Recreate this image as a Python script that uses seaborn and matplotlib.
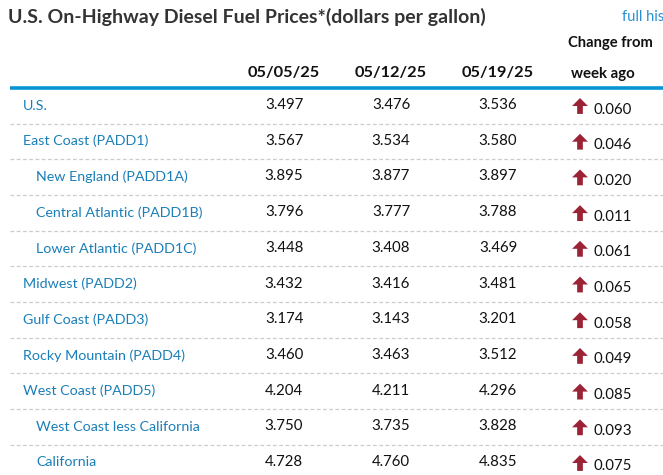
import matplotlib
matplotlib.use("Agg")
import matplotlib.pyplot as plt
import seaborn as sns
import pandas as pd
from matplotlib.path import Path

# table contents
regions = ["U.S.", "East Coast (PADD1)", "New England (PADD1A)", "Central Atlantic (PADD1B)",
           "Lower Atlantic (PADD1C)", "Midwest (PADD2)", "Gulf Coast (PADD3)",
           "Rocky Mountain (PADD4)", "West Coast (PADD5)", "West Coast less California",
           "California"]
indented = [False, False, True, True, True, False, False, False, False, True, True]
dates = ["05/05/25", "05/12/25", "05/19/25"]
price_0505 = [3.497, 3.567, 3.895, 3.796, 3.448, 3.432, 3.174, 3.460, 4.204, 3.750, 4.728]
price_0512 = [3.476, 3.534, 3.877, 3.777, 3.408, 3.416, 3.143, 3.463, 4.211, 3.735, 4.760]
price_0519 = [3.536, 3.580, 3.897, 3.788, 3.469, 3.481, 3.201, 3.512, 4.296, 3.828, 4.835]
change = [0.060, 0.046, 0.020, 0.011, 0.061, 0.065, 0.058, 0.049, 0.085, 0.093, 0.075]

df = pd.DataFrame({"region": regions, "indent": indented,
                   dates[0]: price_0505, dates[1]: price_0512, dates[2]: price_0519,
                   "change": change})

sns.set_theme(style="white")
plt.rcParams["font.family"] = ["Lato", "DejaVu Sans"]

W, H = 663, 475
fig = plt.figure(figsize=(W / 100, H / 100), dpi=100)
ax = fig.add_axes([0, 0, 1, 1])

# layout (pixels)
row0, row_h = 104, 35.7
col_x = [284, 391, 498]
arrow_x, chg_x = 580, 594
df["y"] = row0 + df.index * row_h

blue = "#1a7fb8"
ax.text(8, 17, "U.S. On-Highway Diesel Fuel Prices*(dollars per gallon)", fontsize=14,
        fontweight="bold", color="#333333", va="center", ha="left")
ax.text(622, 17, "full his", fontsize=10.5, color="#2a8fd0", va="center", ha="left")
ax.text(610, 43, "Change from", fontsize=10.6, fontweight="bold", color="#111111",
        va="center", ha="center")
ax.text(603, 74, "week ago", fontsize=10.8, fontweight="bold", color="#111111",
        va="center", ha="center")
for d, x in zip(dates, col_x):
    ax.text(x, 73, d, fontsize=11.8, fontweight="bold", color="#111111",
            va="center", ha="center")

ax.plot([10, W], [88, 88], color="#0a93d2", lw=2.6, solid_capstyle="butt")

for i, r in df.iterrows():
    y = r["y"]
    ax.text(36 if r["indent"] else 23, y + 1.5, r["region"], fontsize=10.3, color=blue,
            va="center", ha="left")
    for d, x in zip(dates, col_x):
        ax.text(x, y + 1, f"{r[d]:.3f}", fontsize=10.8, color="#111111",
                va="center", ha="center")
    ax.text(chg_x, y + 5.5, f"{r['change']:.3f}", fontsize=10.8, color="#111111",
            va="center", ha="left")
    if i < len(df) - 1:
        ax.plot([10, W], [y + 19.5, y + 19.5], color="#cccccc", lw=0.9, ls=(0, (3, 2)))

# up arrow marker
arrow = Path([(-0.18, -0.5), (0.18, -0.5), (0.18, 0.0), (0.5, 0.0), (0.0, 0.5),
              (-0.5, 0.0), (-0.18, 0.0), (-0.18, -0.5)],
             [Path.MOVETO] + [Path.LINETO] * 6 + [Path.CLOSEPOLY])
sns.scatterplot(data=df, x=[arrow_x] * len(df), y=df["y"] + 2, marker=arrow, s=130,
                color="#9b2335", edgecolor="none", ax=ax, legend=False)
ax.set_xlim(0, W)
ax.set_ylim(H, 0)
ax.axis("off")

fig.savefig("out.png", dpi=100)
